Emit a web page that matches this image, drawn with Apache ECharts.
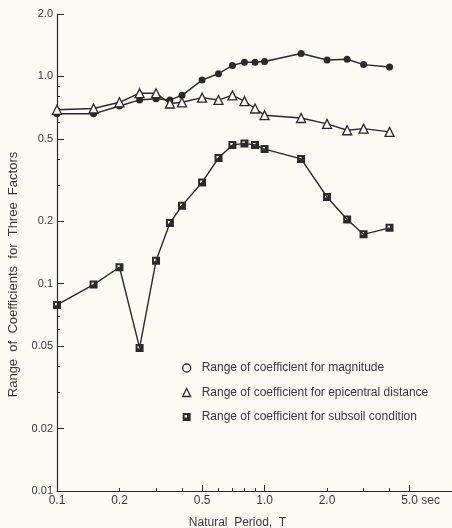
<!DOCTYPE html>
<html>
<head>
<meta charset="utf-8">
<title>Range of Coefficients for Three Factors</title>
<script src="https://cdn.jsdelivr.net/npm/echarts@6/dist/echarts.min.js"></script>
<style>
  html, body { margin: 0; padding: 0; background: #fbfbf4; }
  #chart { width: 452px; height: 528px; }
</style>
</head>
<body>
<div id="chart"></div>
<script>
// Natural period T (sec) of each computed point
const periods = [0.1, 0.15, 0.2, 0.25, 0.3, 0.35, 0.4, 0.5, 0.6, 0.7, 0.8, 0.9, 1.0, 1.5, 2.0, 2.5, 3.0, 4.0];

// Range of coefficient for each factor
const magnitude  = [0.66, 0.66, 0.72, 0.77, 0.78, 0.77, 0.81, 0.96, 1.03, 1.13, 1.17, 1.17, 1.18, 1.29, 1.20, 1.21, 1.14, 1.11];
const epicentral = [0.69, 0.70, 0.75, 0.83, 0.83, 0.74, 0.75, 0.79, 0.77, 0.81, 0.76, 0.70, 0.65, 0.63, 0.59, 0.55, 0.56, 0.54];
const subsoil    = [0.079, 0.099, 0.12, 0.049, 0.129, 0.196, 0.238, 0.308, 0.404, 0.467, 0.475, 0.467, 0.446, 0.40, 0.262, 0.204, 0.173, 0.186];

const seriesNames = [
  'Range of coefficient for magnitude',
  'Range of coefficient for epicentral distance',
  'Range of coefficient for subsoil condition'
];

// Tick positions and labels
const yTicks       = [0.01, 0.02, 0.05, 0.1, 0.2, 0.5, 1, 2];
const yTickLabels  = ['0.01', '0.02', '0.05', '0.1', '0.2', '0.5', '1.0', '2.0'];
const yMinorTicks  = [0.03, 0.04, 0.06, 0.07, 0.08, 0.3, 0.4, 0.6, 0.7, 0.8, 0.9];
const xTicks       = [0.1, 0.2, 0.5, 1, 2, 5];
const xTickLabels  = ['0.1', '0.2', '0.5', '1.0', '2.0', '5.0 sec'];
const xMajorTicks  = [0.5, 1, 5];
const xMinorTicks  = [0.2, 0.3, 0.4, 0.6, 0.7, 0.8, 0.9, 2, 3, 4];

const ink = '#2a2a2a';
const paper = '#fbfbf4';
const textColor = '#3a3a3a';
const font = "'Liberation Sans', Arial, sans-serif";

// filled square with a small light spot
const squareSymbol = 'path://M0,0H10V10H0Z M2.5,2.5V5.5H5.5V2.5Z';

function nearestLabel(v, ticks, labels) {
  let best = 0;
  for (let i = 1; i < ticks.length; i++) {
    if (Math.abs(Math.log(ticks[i]) - Math.log(v)) < Math.abs(Math.log(ticks[best]) - Math.log(v))) best = i;
  }
  return labels[best];
}

const pairs = vals => periods.map((p, i) => [p, vals[i]]);

const chart = echarts.init(document.getElementById('chart'), null, { renderer: 'canvas' });

const baseX = {
  type: 'log', logBase: 10, min: 0.1, max: 8, position: 'bottom',
  splitLine: { show: false }, minorTick: { show: false }
};
const baseY = {
  type: 'log', logBase: 10, min: 0.01, max: 2, position: 'left',
  splitLine: { show: false }, minorTick: { show: false }
};

chart.setOption({
  backgroundColor: paper,
  animation: false,
  textStyle: { fontFamily: font },
  grid: { left: 57, right: 0, top: 14, bottom: 37, containLabel: false, outerBoundsMode: 'none' },
  xAxis: [
    Object.assign({}, baseX, {
      name: 'Natural  Period,  T',
      nameLocation: 'middle',
      nameGap: 26,
      nameTextStyle: { fontSize: 12, color: textColor, fontFamily: font, padding: [0, 34, 0, 0] },
      axisLine: { show: true, lineStyle: { color: ink, width: 1.2 } },
      axisTick: { show: true, inside: true, length: 6, customValues: xMajorTicks, lineStyle: { color: ink, width: 1 } },
      axisLabel: {
        show: true, margin: 4, fontSize: 12, color: textColor, fontFamily: font,
        customValues: xTicks,
        formatter: v => {
          const s = nearestLabel(v, xTicks, xTickLabels);
          return s.indexOf(' ') > 0 ? '{s|' + s + '}' : s;
        },
        rich: { s: { fontSize: 12, color: textColor, fontFamily: font, padding: [0, 0, 0, 22] } }
      }
    }),
    Object.assign({}, baseX, {
      axisLine: { show: false },
      axisLabel: { show: false },
      axisTick: { show: true, inside: true, length: 3, customValues: xMinorTicks, lineStyle: { color: ink, width: 1 } }
    })
  ],
  yAxis: [
    Object.assign({}, baseY, {
      name: 'Range  of  Coefficients  for  Three  Factors',
      nameLocation: 'middle',
      nameGap: 37,
      nameTextStyle: { fontSize: 13, color: textColor, fontFamily: font, padding: [0, 44, 0, 0] },
      axisLine: { show: true, lineStyle: { color: ink, width: 1.2 } },
      axisTick: { show: true, inside: true, length: 7, customValues: yTicks, lineStyle: { color: ink, width: 1 } },
      axisLabel: {
        show: true, margin: 4, fontSize: 11, color: textColor, fontFamily: font,
        customValues: yTicks,
        formatter: v => nearestLabel(v, yTicks, yTickLabels)
      }
    }),
    Object.assign({}, baseY, {
      axisLine: { show: false },
      axisLabel: { show: false },
      axisTick: { show: true, inside: true, length: 3, customValues: yMinorTicks, lineStyle: { color: ink, width: 1 } }
    })
  ],
  legend: {
    orient: 'vertical',
    left: 177, top: 357,
    itemWidth: 8, itemHeight: 8, itemGap: 12.5,
    textStyle: { fontSize: 12, color: textColor, fontFamily: font, padding: [0, 0, 0, 6] },
    data: [
      { name: seriesNames[0], icon: 'circle', itemStyle: { color: paper, borderColor: ink, borderWidth: 1.3 } },
      { name: seriesNames[1], icon: 'triangle', itemStyle: { color: paper, borderColor: ink, borderWidth: 1.3 } },
      { name: seriesNames[2], icon: squareSymbol, itemStyle: { color: ink } }
    ]
  },
  series: [
    {
      name: seriesNames[0], type: 'line', data: pairs(magnitude),
      symbol: 'circle', symbolSize: 7, showAllSymbol: true,
      lineStyle: { color: ink, width: 1.4 },
      itemStyle: { color: ink, borderWidth: 0 }
    },
    {
      name: seriesNames[1], type: 'line', data: pairs(epicentral),
      symbol: 'triangle', symbolSize: 9, showAllSymbol: true,
      lineStyle: { color: ink, width: 1.4 },
      itemStyle: { color: paper, borderColor: ink, borderWidth: 1.3 }
    },
    {
      name: seriesNames[2], type: 'line', data: pairs(subsoil),
      symbol: squareSymbol, symbolSize: 8, showAllSymbol: true,
      lineStyle: { color: ink, width: 1.4 },
      itemStyle: { color: ink, borderWidth: 0 }
    }
  ]
});
</script>
</body>
</html>
